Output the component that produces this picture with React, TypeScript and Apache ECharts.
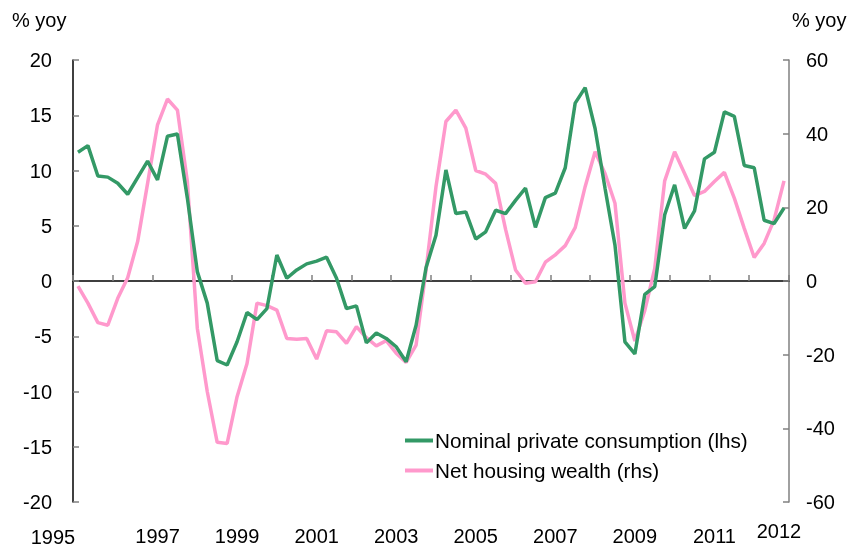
import React, { useEffect, useRef } from "react";
import * as echarts from "echarts";

const years = [1995, 1996, 1997, 1998, 1999, 2000, 2001, 2002, 2003, 2004, 2005, 2006, 2007, 2008, 2009, 2010, 2011, 2012];
const quarters = years.flatMap((y) => ["Q1", "Q2", "Q3", "Q4"].map((q) => `${y} ${q}`));

const consumption = [
  11.65, 12.25, 9.5, 9.4, 8.85, 7.85, 9.35, 10.85,
  9.15, 13.1, 13.3, 7.5, 0.85, -2.0, -7.2, -7.6,
  -5.5, -2.85, -3.5, -2.5, 2.35, 0.25, 1.0, 1.55,
  1.8, 2.15, 0.25, -2.5, -2.25, -5.6, -4.7, -5.2,
  -5.95, -7.3, -4.0, 1.2, 4.15, 10.05, 6.1, 6.25,
  3.8, 4.45, 6.4, 6.1, 7.3, 8.4, 4.85, 7.55,
  7.95, 10.25, 16.1, 17.5, 13.8, 8.4, 3.25, -5.5,
  -6.6, -1.2, -0.5, 6.0, 8.7, 4.75, 6.35, 11.05,
  11.65, 15.3, 14.9, 10.45, 10.25, 5.5, 5.2, 6.6,
];

const housingWealth = [
  -1.4, -6.0, -11.3, -12.0, -4.7, 0.9, 10.7, 26.5,
  42.4, 49.4, 46.4, 27, -12.8, -30, -43.8, -44.1,
  -31.4, -22.4, -6.0, -6.7, -7.9, -15.6, -15.8, -15.6,
  -21.2, -13.5, -13.8, -16.9, -12.4, -15.4, -17.6, -16.2,
  -19.6, -22.1, -17.4, 3, 25.6, 43.3, 46.4, 41.5,
  30, 29, 26.5, 14, 3.0, -0.6, -0.2, 5.1,
  7.1, 9.6, 14.5, 25.6, 35.1, 29.2, 21.1, -6,
  -16.3, -8, 3.4, 27.2, 35.1, 29.2, 23.2, 24.3,
  27, 29.5, 22.5, 14.3, 6.4, 10.2, 16.6, 27.2,
];

const axisYearLabels = ["1997", "1999", "2001", "2003", "2005", "2007", "2009", "2011"];
const edgeYearLabels = ["1995", "2012"];
const seriesNames = ["Nominal private consumption (lhs)", "Net housing wealth (rhs)"];
const unitLabel = "% yoy";

const FONT = "'Liberation Sans', Arial, sans-serif";

export default function App() {
  const ref = useRef<HTMLDivElement>(null);
  useEffect(() => {
    if (!ref.current) return;
    const chart = echarts.init(ref.current, undefined, { renderer: "svg" });
    const labelIdx = new Set(axisYearLabels.map((y) => quarters.indexOf(`${y} Q1`)));
    chart.setOption({
      animation: false,
      textStyle: { fontFamily: FONT, color: "#000" },
      grid: { left: 73, right: 67, top: 60, bottom: 46 },
      legend: {
        orient: "vertical",
        left: 400,
        top: 425,
        itemWidth: 28,
        itemHeight: 4,
        itemGap: 9,
        icon: "rect",
        textStyle: { fontFamily: FONT, fontSize: 20.7, color: "#000", padding: [0, 0, 0, -3] },
        data: seriesNames,
      },
      xAxis: [
        {
          type: "category",
          data: quarters,
          boundaryGap: true,
          axisLine: { onZero: true, lineStyle: { color: "#000", width: 1.5 } },
          axisTick: { show: true, inside: true, interval: 3, length: 6, lineStyle: { color: "#808080", width: 1.5 } },
          axisLabel: { show: false },
          splitLine: { show: false },
        },
        {
          type: "category",
          data: quarters,
          boundaryGap: true,
          position: "bottom",
          axisLine: { show: false, onZero: false },
          axisTick: { show: false },
          axisLabel: {
            show: true,
            interval: (i: number) => labelIdx.has(i),
            formatter: (v: string) => v.slice(0, 4),
            fontFamily: FONT,
            fontSize: 20,
            color: "#000",
            margin: 24,
          },
          splitLine: { show: false },
        },
      ],
      yAxis: [
        {
          type: "value",
          min: -20,
          max: 20,
          interval: 5,
          position: "left",
          axisLine: { show: true, lineStyle: { color: "#000", width: 1.5 } },
          axisTick: { show: true, inside: true, length: 6, lineStyle: { color: "#808080", width: 1.5 } },
          axisLabel: { fontFamily: FONT, fontSize: 20, color: "#000", margin: 21 },
          splitLine: { show: false },
        },
        {
          type: "value",
          min: -60,
          max: 60,
          interval: 20,
          position: "right",
          axisLine: { show: true, lineStyle: { color: "#808080", width: 1.5 } },
          axisTick: { show: true, inside: true, length: 6, lineStyle: { color: "#808080", width: 1.5 } },
          axisLabel: { fontFamily: FONT, fontSize: 20, color: "#000", margin: 17 },
          splitLine: { show: false },
        },
      ],
      series: [
        {
          name: seriesNames[0],
          type: "line",
          xAxisIndex: 0,
          yAxisIndex: 0,
          data: consumption,
          showSymbol: false,
          lineStyle: { color: "#339966", width: 3.5 },
          itemStyle: { color: "#339966" },
          z: 3,
        },
        {
          name: seriesNames[1],
          type: "line",
          xAxisIndex: 0,
          yAxisIndex: 1,
          data: housingWealth,
          showSymbol: false,
          lineStyle: { color: "#FF99CC", width: 3.5 },
          itemStyle: { color: "#FF99CC" },
          z: 2,
        },
      ],
      graphic: [
        { type: "text", left: 12, top: 10, style: { text: unitLabel, font: `20px ${FONT}`, fill: "#000" } },
        { type: "text", left: 792, top: 10, style: { text: unitLabel, font: `20px ${FONT}`, fill: "#000" } },
        { type: "text", x: 53, y: 537, style: { text: edgeYearLabels[0], font: `20px ${FONT}`, fill: "#000", align: "center", verticalAlign: "middle" } },
        { type: "text", x: 779, y: 531, style: { text: edgeYearLabels[1], font: `20px ${FONT}`, fill: "#000", align: "center", verticalAlign: "middle" } },
      ],
    });
    return () => chart.dispose();
  }, []);
  return <div ref={ref} style={{ position: "fixed", left: 0, top: 0, width: 856, height: 548 }} />;
}
